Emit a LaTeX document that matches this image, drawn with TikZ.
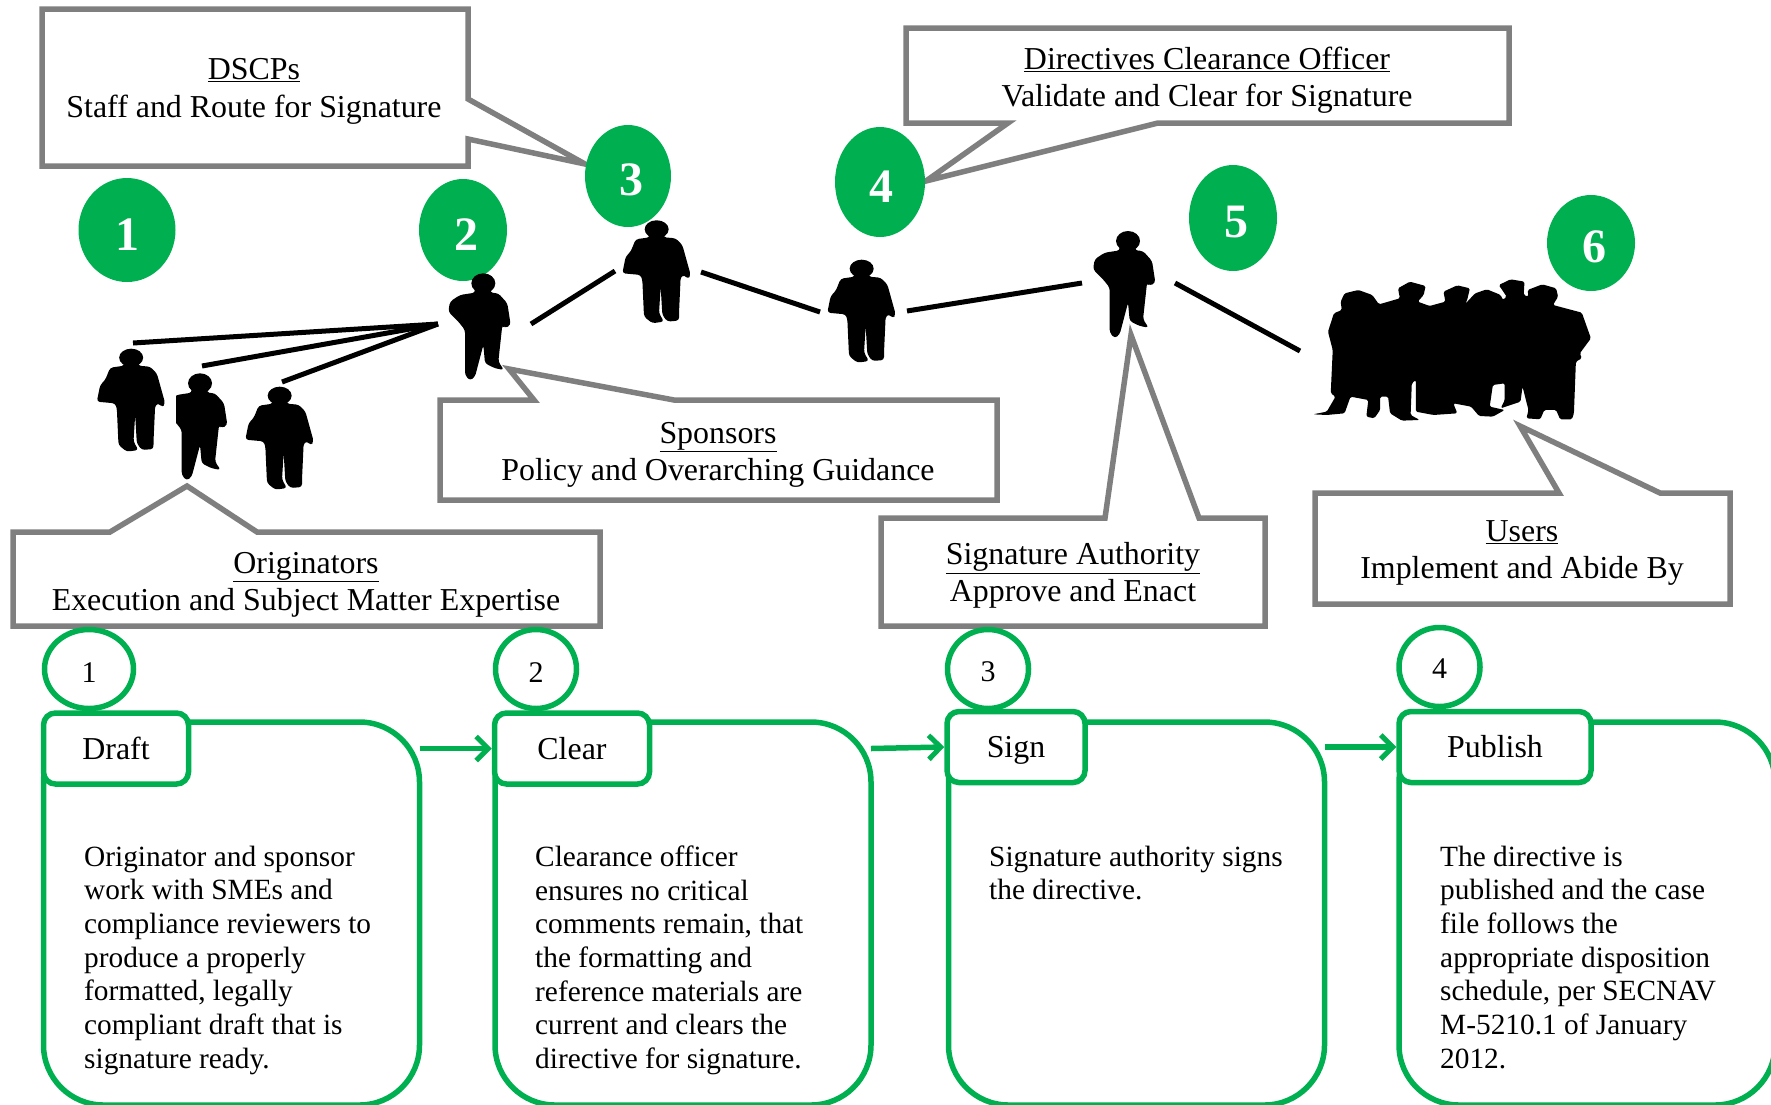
\documentclass[tikz,border=0pt]{standalone}
\usepackage{fontspec}
\setmainfont{Liberation Serif}
\usetikzlibrary{shapes.geometric,arrows.meta}
\definecolor{stagegreen}{HTML}{00B050}
\definecolor{calloutgray}{HTML}{7F7F7F}
\tikzset{
  callout/.style={draw=calloutgray,line width=5.5pt,miter limit=10},
  calloutlabel/.style={align=center,inner sep=0pt,font=\fontsize{31.9}{37.3}\selectfont},
  link/.style={line width=5pt},
  badge/.style={ellipse,fill=stagegreen,text=white,inner sep=0pt,text height=40pt,font=\fontsize{48}{48}\selectfont\bfseries},
  stepmark/.style={ellipse,draw=stagegreen,line width=5.5pt,fill=white,inner sep=0pt,minimum width=89pt,minimum height=79pt,text height=26pt,font=\fontsize{30}{30}\selectfont},
  stagebox/.style={draw=stagegreen,line width=5.5pt,outer sep=0pt,rounded corners=60pt,anchor=north west,minimum width=376pt,minimum height=383pt},
  stagehead/.style={draw=stagegreen,line width=5.5pt,fill=white,rounded corners=12pt,minimum height=71pt,inner sep=0pt,text height=25pt,text depth=4pt,font=\fontsize{31.9}{37}\selectfont},
  stagetext/.style={anchor=north west,align=left,inner sep=0pt,font=\fontsize{29.35}{33.7}\selectfont},
  flow/.style={draw=stagegreen,line width=5.5pt,-{Straight Barb[length=12pt,width=24pt,line width=5pt]}},
  baggedman/.pic={
    \begin{scope}[x=0.3333pt,y=-0.3333pt]
      \fill (2,-127) ellipse (36 and 27);
      \fill[rounded corners=3pt] (-22,-118) -- (26,-118) -- (22,-103) -- (59,-100) -- (79,-80) -- (104,10) -- (96,23) -- (86,10) -- (74,15) -- (69,125) -- (69,147) -- (34,150) -- (19,130) -- (14,45) -- (9,125) -- (24,150) -- (-11,155) -- (-36,135) -- (-41,25) -- (-46,10) -- (-101,5) -- (-91,-45) -- (-76,-60) -- (-61,-97) -- (-18,-103) -- cycle;
    \end{scope}
  },
  handsman/.pic={
    \begin{scope}[x=0.3333pt,y=-0.3333pt]
      \fill (10,-120) ellipse (36 and 30);
      \fill[rounded corners=3pt] (-16,-108) -- (34,-108) -- (30,-92) -- (55,-90) -- (82,-60) -- (92,5) -- (75,15) -- (67,5) -- (55,115) -- (72,140) -- (45,135) -- (15,120) -- (10,65) -- (-15,160) -- (-30,172) -- (-45,155) -- (-45,20) -- (-65,-5) -- (-95,-35) -- (-90,-65) -- (-60,-85) -- (-14,-92) -- cycle;
    \end{scope}
  }
}
\begin{document}
\begin{tikzpicture}[x=1pt,y=-1pt]
  \clip (0,0) rectangle (1771,1104);
  %callouts
  \draw[callout] (42,9) -- (468,9) -- (468,99) -- (585,164) -- (468,139) -- (468,166) -- (42,166) -- cycle;
  \draw[callout] (906,28) -- (1509,28) -- (1509,123) -- (1158,123) -- (926,181) -- (1008,123) -- (906,123) -- cycle;
  \draw[callout] (440,400) -- (534,400) -- (509,369) -- (674,400) -- (997,400) -- (997,500) -- (440,500) -- cycle;
  \draw[callout] (13,532) -- (110,532) -- (187,486) -- (257,532) -- (600,532) -- (600,626) -- (13,626) -- cycle;
  \draw[callout] (881,518) -- (1105,518) -- (1131,335) -- (1199,518) -- (1265,518) -- (1265,626) -- (881,626) -- cycle;
  \draw[callout] (1315,493) -- (1559,493) -- (1520,426) -- (1660,493) -- (1730,493) -- (1730,604) -- (1315,604) -- cycle;
  \node[calloutlabel] (dscplabel) at (254,91.5) {\underline{DSCPs}\\Staff and Route for Signature};
  \node[calloutlabel] (officerlabel) at (1207,80.5) {\underline{Directives Clearance Officer}\\Validate and Clear for Signature};
  \node[calloutlabel] (sponsorlabel) at (718,455) {\underline{Sponsors}\\Policy and Overarching Guidance};
  \node[calloutlabel] (originatorlabel) at (306,584.5) {\underline{Originators}\\Execution and Subject Matter Expertise};
  \node[calloutlabel] (authoritylabel) at (1073,575.5) {\underline{Signature Authority}\\Approve and Enact};
  \node[calloutlabel] (userlabel) at (1522,553) {\underline{Users}\\Implement and Abide By};
  %numbered badges
  \node[badge,minimum width=97pt,minimum height=104pt] (one) at (127,230) {1};
  \node[badge,minimum width=88pt,minimum height=102pt] (two) at (463,230) {\kern7pt 2};
  \node[badge,minimum width=86pt,minimum height=102pt] (three) at (628,176) {\kern6pt 3};
  \node[badge,minimum width=90pt,minimum height=110pt] (four) at (880,182) {\kern3pt 4};
  \node[badge,minimum width=88pt,minimum height=106pt] (five) at (1233,218) {\kern6pt 5};
  \node[badge,minimum width=88pt,minimum height=96pt] (six) at (1591,243) {\kern6pt 6};
  %people
  \pic at (130.5,400) {baggedman};
  \begin{scope}
    \clip (176,340) rectangle (260,500);
    \pic at (196.7,423.3) {handsman};
  \end{scope}
  \pic at (279,438) {baggedman};
  \pic at (480,323.3) {handsman};
  \pic at (656,271.6) {baggedman};
  \pic at (861,311) {baggedman};
  \pic at (1124.7,281) {handsman};
  \begin{scope}[shift={(1050,180)},x=0.3954pt,y=-0.3333pt]
    \fill[rounded corners=1.5pt] (665,703) -- (700,695) -- (722,650) -- (710,640) -- (715,510) -- (703,455) -- (718,400) -- (738,390) -- (735,365) -- (745,340) -- (780,330) -- (815,345) -- (832,373) -- (885,355) -- (880,325) -- (910,305) -- (950,318) -- (945,345) -- (930,365) -- (960,378) -- (1000,365) -- (995,335) -- (1030,316) -- (1062,325) -- (1055,360) -- (1050,372) -- (1075,340) -- (1105,328) -- (1140,345) -- (1145,360) -- (1155,350) -- (1135,315) -- (1165,298) -- (1200,305) -- (1198,345) -- (1210,350) -- (1208,330) -- (1245,313) -- (1280,325) -- (1285,350) -- (1272,375) -- (1345,398) -- (1368,475) -- (1340,520) -- (1345,535) -- (1330,545) -- (1325,700) -- (1320,718) -- (1290,718) -- (1280,690) -- (1250,690) -- (1240,718) -- (1205,715) -- (1210,690) -- (1195,620) -- (1190,665) -- (1140,685) -- (1150,660) -- (1150,610) -- (1120,615) -- (1112,680) -- (1150,690) -- (1120,710) -- (1085,708) -- (1065,680) -- (1020,670) -- (1030,700) -- (970,705) -- (925,695) -- (925,600) -- (915,610) -- (912,705) -- (935,720) -- (890,722) -- (860,700) -- (855,650) -- (835,650) -- (835,690) -- (820,715) -- (800,710) -- (805,660) -- (760,650) -- (745,700) -- (700,705) -- cycle;
  \end{scope}
  %black links
  \coordinate (hub) at (438,324);
  \coordinate (orgone) at (133,343);
  \coordinate (orgtwo) at (202,366);
  \coordinate (orgthree) at (282,382);
  \draw[link] (orgone) -- (hub);
  \draw[link] (orgtwo) -- (hub);
  \draw[link] (orgthree) -- (hub);
  \coordinate (sponsorout) at (531,324);
  \coordinate (dscpin) at (615,271);
  \coordinate (dscpout) at (701,272);
  \coordinate (officerin) at (820,312);
  \coordinate (officerout) at (907,311);
  \coordinate (authorityin) at (1082,283);
  \coordinate (authorityout) at (1175,283);
  \coordinate (usersin) at (1300,351);
  \draw[link] (sponsorout) -- (dscpin);
  \draw[link] (dscpout) -- (officerin);
  \draw[link] (officerout) -- (authorityin);
  \draw[link] (authorityout) -- (usersin);
  %stages
  \node[stagebox] (draftbox) at (43.5,722) {};
  \node[stagebox] (clearbox) at (495,722) {};
  \node[stagebox] (signbox) at (948.5,722) {};
  \node[stagebox] (publishbox) at (1399,722) {};
  \node[stepmark] (markone) at (89,669) {1};
  \node[stepmark,minimum width=81pt] (marktwo) at (536,669) {2};
  \node[stepmark,minimum width=81pt] (markthree) at (988,669) {3};
  \node[stepmark,minimum width=81pt,text height=23pt] (markfour) at (1439.5,667) {4};
  \node[stagehead,minimum width=145pt] (draft) at (116,748.5) {Draft};
  \node[stagehead,minimum width=155pt] (clear) at (572,748.5) {Clear};
  \node[stagehead,minimum width=138pt] (sign) at (1016,747) {Sign};
  \node[stagehead,minimum width=192pt] (publish) at (1495,747) {Publish};
  \draw[flow] (draft -| draftbox.east) -- (clear.west);
  \draw[flow] (clear -| clearbox.east) -- (sign.west);
  \draw[flow] (sign -| signbox.east) -- (publish.west);
  \node[stagetext] (drafttext) at (84,845.5) {Originator and sponsor\\work with SMEs and\\compliance reviewers to\\produce a properly\\formatted, legally\\compliant draft that is\\signature ready.};
  \node[stagetext] (cleartext) at (535,845.5) {Clearance officer\\ensures no critical\\comments remain, that\\the formatting and\\reference materials are\\current and clears the\\directive for signature.};
  \node[stagetext] (signtext) at (989,845.5) {Signature authority signs\\the directive.};
  \node[stagetext] (publishtext) at (1440,845.5) {The directive is\\published and the case\\file follows the\\appropriate disposition\\schedule, per SECNAV\\M-5210.1 of January\\2012.};
\end{tikzpicture}
\end{document}
